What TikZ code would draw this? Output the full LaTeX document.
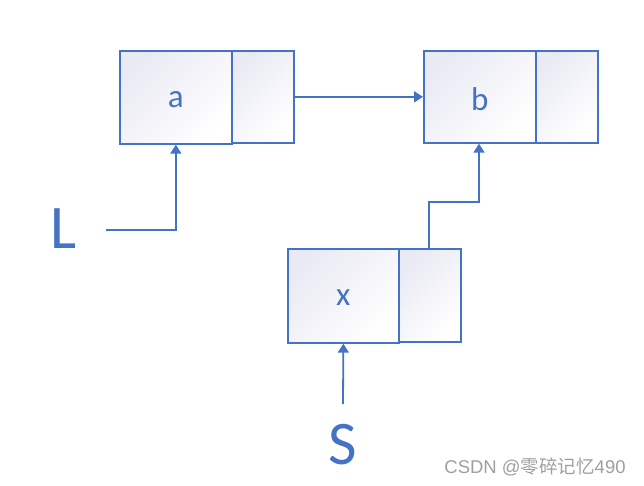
\documentclass[tikz,border=0pt]{standalone}
\usepackage{fontspec}
\setmainfont{Carlito}
\newfontfamily\cjk{Noto Sans CJK SC}
\newfontfamily\wmlat{Liberation Sans}
\usetikzlibrary{arrows.meta}
\definecolor{lb}{HTML}{4472C4}
\definecolor{fillc}{HTML}{E9EAF4}
\tikzset{
  cell/.style={draw=lb, line width=1.7pt, inner sep=0pt, anchor=north west,
    left color=fillc, right color=white, shading angle=45},
  ptr/.style={draw=lb, line width=1.8pt, -{Triangle[length=9pt,width=11pt]}},
  lbl/.style={text=lb, font=\fontsize{33}{35}\selectfont},
  big/.style={text=lb, font=\fontsize{62}{64}\selectfont}
}
\begin{document}
\begin{tikzpicture}[x=1pt,y=-1pt]
\useasboundingbox (0,0) rectangle (644,486);
% nodes
\node[cell, minimum width=112pt, minimum height=93pt] (ad) at (119,50) {};
\node[cell, minimum width=62pt, minimum height=92pt] (ap) at (231,50) {};
\node[lbl] at ([yshift=-2pt]ad.center) {a};
\node[cell, minimum width=112pt, minimum height=92pt] (bd) at (423,50) {};
\node[cell, minimum width=62pt, minimum height=92pt] (bp) at (535,50) {};
\node[lbl] at ([yshift=-2pt]bd.center) {b};
\node[cell, minimum width=111pt, minimum height=94pt] (xd) at (287,248) {};
\node[cell, minimum width=62pt, minimum height=93pt] (xp) at (398,248) {};
\node[lbl] at ([yshift=-2pt]xd.center) {x};
\node[big] (L) at (64,229) {L};
\node[big] (S) at (343,445) {S};
\coordinate (Lend) at (106,230);
\coordinate (Send) at (343,404);
% connectors
\draw[ptr] (ap.east) -- (bd.west);
\draw[ptr] (Lend) -| (ad.south);
\draw[ptr] (Send) -- (xd.south);
\draw[ptr] (xp.north -| 429,0) |- (479,202) -- (bd.south -| 479,0);
% watermark
\node[text=gray!75, font=\fontsize{18.5}{20}\selectfont] (wm) at (535,467) {\wmlat CSDN @\cjk 零碎记忆\wmlat 490};
\end{tikzpicture}
\end{document}
